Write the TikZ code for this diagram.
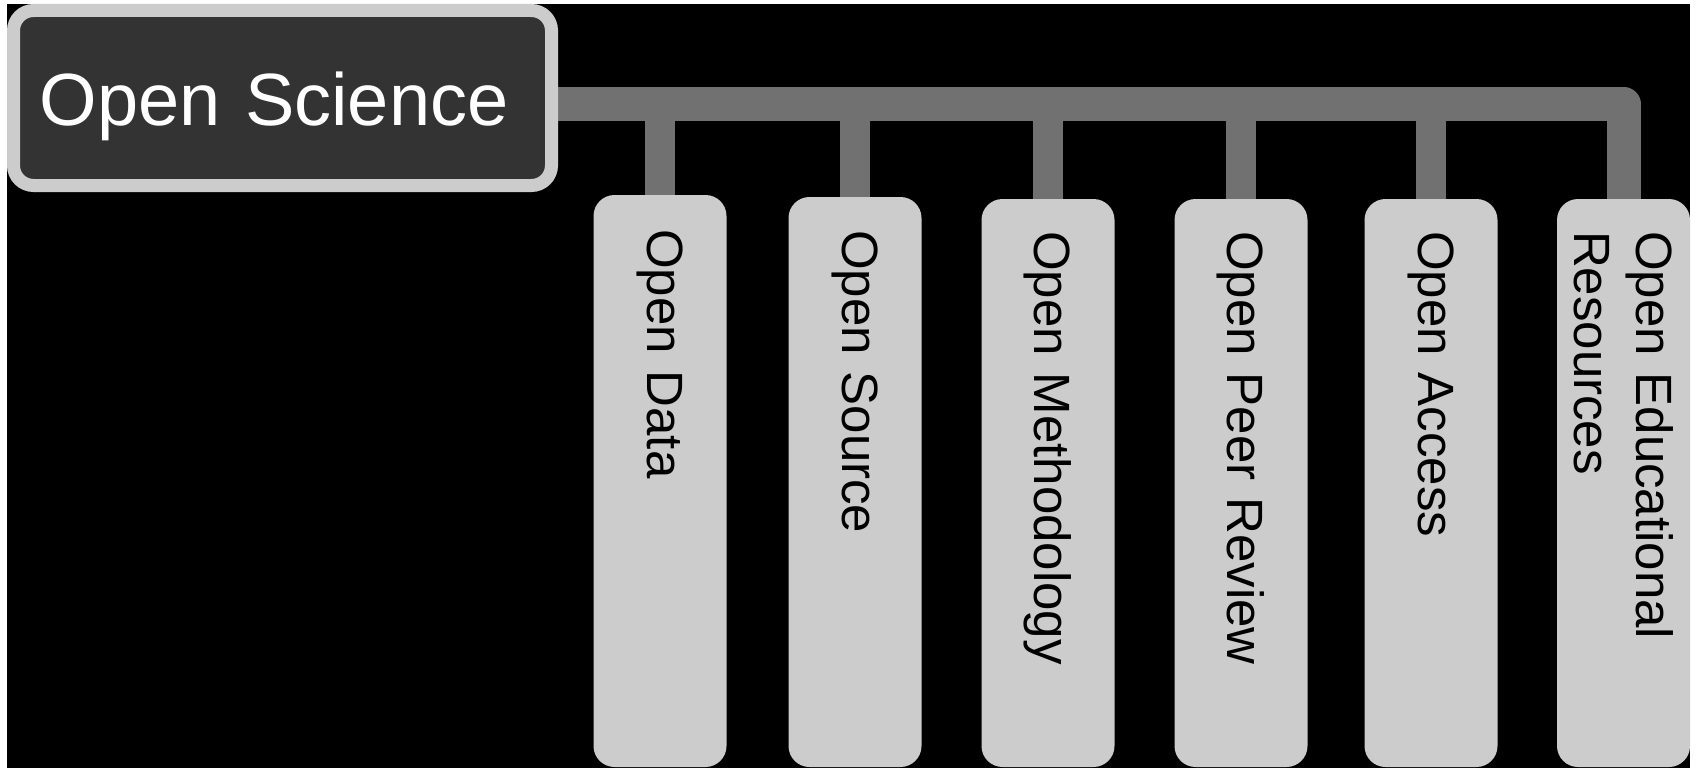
\documentclass[tikz,border=0pt]{standalone}
\usepackage{fontspec}
\setmainfont{Liberation Sans}
\definecolor{rootfill}{HTML}{333333}
\definecolor{paleline}{HTML}{CCCCCC}
\definecolor{wiregrey}{HTML}{717171}
\pgfdeclarelayer{wires}
\pgfsetlayers{wires,main}
\tikzset{
  rootbox/.style={rectangle, rounded corners=20pt, fill=rootfill, draw=paleline,
    line width=13pt, minimum width=538pt, minimum height=175pt, outer sep=0pt,
    inner xsep=26pt, inner ysep=0pt, text width=486pt, align=left,
    text height=70pt, text depth=16pt, text=white,
    font=\fontsize{74}{80}\selectfont},
  leafbox/.style={rectangle, rounded corners=21pt, fill=paleline, rotate=-90,
    minimum width=#1, minimum height=133pt, outer sep=0pt,
    inner xsep=32pt, inner ysep=0pt, text width=504pt, align=left, text=black,
    font=\fontsize{51}{62}\selectfont},
  leafbox/.default=568pt,
  busline/.style={draw=wiregrey, line width=34pt, line join=round},
  dropline/.style={draw=wiregrey, line width=30pt}
}
\begin{document}
\begin{tikzpicture}[x=1pt,y=-1pt]
  \useasboundingbox (0,0) rectangle (1696,768);
  \begin{pgfonlayer}{wires}
    \fill[white] (0,0) rectangle (1696,768);
    \fill[black] (7,4) rectangle (1690,768);
  \end{pgfonlayer}

  % root topic
  \node[rootbox] (root) at (282.5,98) {Open Science};

  % sub-topics, text running downwards
  \node[leafbox=572pt] (n1) at (660,481)    {Open Data};
  \node[leafbox=570pt] (n2) at (855,482)    {Open Source};
  \node[leafbox] (n3) at (1048,483)   {Open Methodology};
  \node[leafbox] (n4) at (1241,483)   {Open Peer Review};
  \node[leafbox] (n5) at (1431,483)   {Open Access};
  \node[leafbox] (n6) at (1623.5,483) {Open Educational\\Resources};

  % connectors
  \coordinate (bus) at (0,104);
  \begin{pgfonlayer}{wires}
    \draw[busline] (root.east |- bus) -| (n6.west);
    \foreach \n in {n1,n2,n3,n4,n5}
      \draw[dropline] (\n.west |- bus) -- (\n.west);
  \end{pgfonlayer}
\end{tikzpicture}
\end{document}
